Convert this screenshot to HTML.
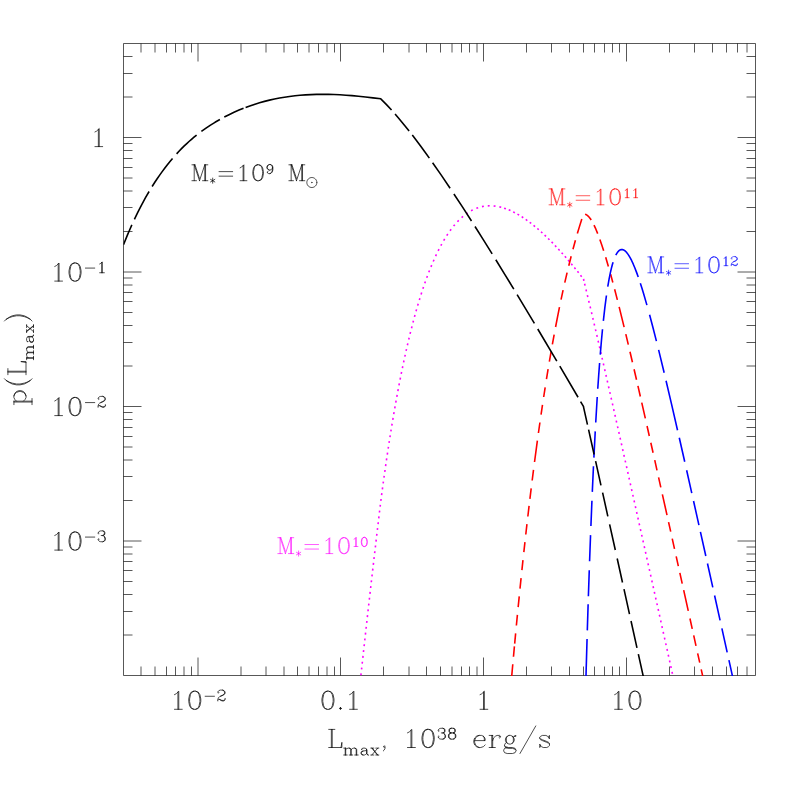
<!DOCTYPE html>
<html><head><meta charset="utf-8"><title>p(Lmax)</title>
<style>html,body{margin:0;padding:0;background:#fff;font-family:"Liberation Sans",sans-serif}svg{display:block}</style>
</head><body>
<svg width="797" height="797" viewBox="0 0 797 797">
<rect width="797" height="797" fill="#fff"/>
<rect x="123.5" y="43.5" width="632.0" height="632.0" fill="none" stroke="#000" stroke-width="0.66" stroke-linejoin="round"/>
<path d="M141 675.5V666.5M141 43.5V52.5M155 675.5V666.5M155 43.5V52.5M166.5 675.5V666.5M166.5 43.5V52.5M175.5 675.5V666.5M175.5 43.5V52.5M184 675.5V666.5M184 43.5V52.5M191.5 675.5V666.5M191.5 43.5V52.5M198 675.5V657.5M198 43.5V61.5M241 675.5V666.5M241 43.5V52.5M266 675.5V666.5M266 43.5V52.5M284 675.5V666.5M284 43.5V52.5M297.5 675.5V666.5M297.5 43.5V52.5M309 675.5V666.5M309 43.5V52.5M318.5 675.5V666.5M318.5 43.5V52.5M327 675.5V666.5M327 43.5V52.5M334.5 675.5V666.5M334.5 43.5V52.5M340.5 675.5V657.5M340.5 43.5V61.5M383.5 675.5V666.5M383.5 43.5V52.5M409 675.5V666.5M409 43.5V52.5M426.5 675.5V666.5M426.5 43.5V52.5M440.5 675.5V666.5M440.5 43.5V52.5M452 675.5V666.5M452 43.5V52.5M461.5 675.5V666.5M461.5 43.5V52.5M469.5 675.5V666.5M469.5 43.5V52.5M477 675.5V666.5M477 43.5V52.5M483.5 675.5V657.5M483.5 43.5V61.5M526.5 675.5V666.5M526.5 43.5V52.5M551.5 675.5V666.5M551.5 43.5V52.5M569.5 675.5V666.5M569.5 43.5V52.5M583.5 675.5V666.5M583.5 43.5V52.5M594.5 675.5V666.5M594.5 43.5V52.5M604.5 675.5V666.5M604.5 43.5V52.5M612.5 675.5V666.5M612.5 43.5V52.5M619.5 675.5V666.5M619.5 43.5V52.5M626.5 675.5V657.5M626.5 43.5V61.5M669.5 675.5V666.5M669.5 43.5V52.5M694.5 675.5V666.5M694.5 43.5V52.5M712.5 675.5V666.5M712.5 43.5V52.5M726.5 675.5V666.5M726.5 43.5V52.5M737.5 675.5V666.5M737.5 43.5V52.5M747 675.5V666.5M747 43.5V52.5M123.5 635H132.5M755.5 635H746.5M123.5 611.5H132.5M755.5 611.5H746.5M123.5 594.5H132.5M755.5 594.5H746.5M123.5 581.5H132.5M755.5 581.5H746.5M123.5 570.5H132.5M755.5 570.5H746.5M123.5 561.5H132.5M755.5 561.5H746.5M123.5 554H132.5M755.5 554H746.5M123.5 547H132.5M755.5 547H746.5M123.5 541H141.5M755.5 541H737.5M123.5 500.5H132.5M755.5 500.5H746.5M123.5 476.5H132.5M755.5 476.5H746.5M123.5 460H132.5M755.5 460H746.5M123.5 447H132.5M755.5 447H746.5M123.5 436.5H132.5M755.5 436.5H746.5M123.5 427.5H132.5M755.5 427.5H746.5M123.5 419.5H132.5M755.5 419.5H746.5M123.5 412.5H132.5M755.5 412.5H746.5M123.5 406.5H141.5M755.5 406.5H737.5M123.5 366H132.5M755.5 366H746.5M123.5 342.5H132.5M755.5 342.5H746.5M123.5 325.5H132.5M755.5 325.5H746.5M123.5 312.5H132.5M755.5 312.5H746.5M123.5 301.5H132.5M755.5 301.5H746.5M123.5 292.5H132.5M755.5 292.5H746.5M123.5 285H132.5M755.5 285H746.5M123.5 278H132.5M755.5 278H746.5M123.5 272H141.5M755.5 272H737.5M123.5 231.5H132.5M755.5 231.5H746.5M123.5 207.5H132.5M755.5 207.5H746.5M123.5 191H132.5M755.5 191H746.5M123.5 178H132.5M755.5 178H746.5M123.5 167.5H132.5M755.5 167.5H746.5M123.5 158.5H132.5M755.5 158.5H746.5M123.5 150.5H132.5M755.5 150.5H746.5M123.5 143.5H132.5M755.5 143.5H746.5M123.5 137.5H141.5M755.5 137.5H737.5M123.5 97H132.5M755.5 97H746.5M123.5 73.5H132.5M755.5 73.5H746.5M123.5 56.5H132.5M755.5 56.5H746.5" fill="none" stroke="#000" stroke-width="0.66"/>
<clipPath id="c"><rect x="123.5" y="43.5" width="632.0" height="632.4"/></clipPath>
<g clip-path="url(#c)" fill="none" stroke-width="1.6" stroke-linecap="butt" stroke-linejoin="round">
<path d="M360.29 681.06 L360.49 679.17 M360.92 675.24 L361.12 673.36 M361.55 669.43 L361.76 667.54 M362.19 663.61 L362.4 661.72 M362.83 657.8 L363.03 655.91 M363.47 651.98 L363.67 650.09 M364.11 646.17 L364.32 644.28 M364.75 640.35 L364.96 638.47 M365.4 634.54 L365.61 632.65 M366.04 628.73 L366.25 626.84 M366.69 622.91 L366.9 621.02 M367.34 617.1 L367.55 615.21 M368 611.28 L368.21 609.4 M368.65 605.47 L368.86 603.58 M369.31 599.66 L369.52 597.77 M369.97 593.85 L370.18 591.96 M370.63 588.03 L370.84 586.15 M371.29 582.22 L371.51 580.33 M371.96 576.41 L372.17 574.52 M372.63 570.6 L372.84 568.71 M373.3 564.79 L373.51 562.9 M373.97 558.97 L374.19 557.09 M374.64 553.16 L374.86 551.28 M375.32 547.35 L375.54 545.47 M376 541.54 L376.22 539.66 M376.68 535.73 L376.9 533.85 M377.36 529.92 L377.58 528.04 M378.05 524.11 L378.27 522.23 M378.74 518.3 L378.96 516.42 M379.43 512.49 L379.65 510.61 M380.12 506.69 L380.35 504.8 M380.82 500.88 L381.07 498.99 M381.58 495.08 L381.83 493.19 M382.36 489.28 L382.61 487.4 M383.14 483.48 L383.4 481.6 M383.94 477.69 L384.21 475.81 M384.76 471.89 L385.03 470.01 M385.59 466.1 L385.86 464.22 M386.43 460.31 L386.7 458.43 M387.28 454.53 L387.57 452.65 M388.16 448.74 L388.44 446.86 M389.04 442.96 L389.34 441.08 M389.95 437.18 L390.25 435.3 M390.87 431.4 L391.17 429.53 M391.81 425.63 L392.12 423.75 M392.77 419.86 L393.09 417.98 M393.75 414.09 L394.07 412.22 M394.75 408.33 L395.08 406.46 M395.77 402.57 L396.1 400.7 M396.81 396.81 L397.15 394.94 M397.87 391.06 L398.23 389.19 M398.96 385.31 L399.32 383.44 M400.08 379.57 L400.45 377.7 M401.22 373.83 L401.6 371.97 M402.39 368.1 L402.78 366.24 M403.59 362.37 L403.99 360.51 M404.82 356.65 L405.23 354.8 M406.09 350.94 L406.51 349.09 M407.39 345.24 L407.82 343.39 M408.72 339.54 L409.17 337.7 M410.1 333.86 L410.56 332.01 M411.52 328.18 L411.99 326.34 M412.98 322.52 L413.47 320.68 M414.49 316.87 L414.99 315.03 M416.05 311.23 L416.57 309.4 M417.67 305.61 L418.21 303.78 M419.34 300 L419.9 298.18 M421.08 294.42 L421.66 292.61 M422.89 288.85 L423.5 287.05 M424.78 283.31 L425.41 281.52 M426.75 277.81 L427.4 276.02 M428.8 272.33 L429.49 270.56 M430.96 266.89 L431.69 265.14 M433.23 261.5 L434 259.76 M435.62 256.16 L436.43 254.44 M438.15 250.89 L439.01 249.19 M440.84 245.69 L441.75 244.02 M443.7 240.59 L444.67 238.95 M446.76 235.6 L447.8 234.01 M450.04 230.76 L451.16 229.23 M453.59 226.11 L454.8 224.65 M457.43 221.7 L458.74 220.33 M461.6 217.6 L463.04 216.36 M466.14 213.92 L467.7 212.83 M471.07 210.77 L472.75 209.89 M476.37 208.3 L478.16 207.67 M481.97 206.64 L483.84 206.28 M487.76 205.85 L489.66 205.79 M493.61 205.96 L495.49 206.17 M499.38 206.86 L501.23 207.3 M504.11 208.15 L505.91 208.76 M508.71 209.83 L510.45 210.58 M513.17 211.86 L514.86 212.72 M517.49 214.16 L519.13 215.12 M521.68 216.7 L523.28 217.73 M525.75 219.42 L527.3 220.53 M529.71 222.31 L531.22 223.47 M533.57 225.34 L535.04 226.54 M537.33 228.48 L538.76 229.72 M541 231.72 L542.41 233 M544.6 235.05 L545.98 236.36 M548.13 238.45 L549.47 239.79 M551.58 241.92 L552.91 243.28 M554.98 245.45 L556.29 246.83 M558.33 249.03 L559.61 250.43 M561.62 252.66 L562.88 254.08 M564.86 256.33 L566.11 257.77 M568.07 260.04 L569.3 261.49 M571.23 263.79 L572.44 265.25 M574.35 267.56 L575.55 269.03 M577.44 271.37 L578.63 272.85 M580.49 275.2 L581.67 276.69 M583.52 279.05 L583.56 279.11 L583.61 279.74 L583.89 280.9 M584.61 283.81 L585.06 285.66 M586 289.5 L586.45 291.34 M587.37 295.18 L587.82 297.03 M588.74 300.87 L589.18 302.72 M590.1 306.56 L590.54 308.41 M591.45 312.25 L591.88 314.1 M592.79 317.95 L593.22 319.8 M594.12 323.64 L594.56 325.49 M595.45 329.34 L595.88 331.19 M596.78 335.04 L597.21 336.89 M598.1 340.74 L598.52 342.59 M599.41 346.44 L599.84 348.29 M600.72 352.14 L601.15 353.99 M602.03 357.84 L602.45 359.69 M603.33 363.54 L603.76 365.4 M604.63 369.25 L605.06 371.1 M605.93 374.95 L606.35 376.8 M607.23 380.66 L607.65 382.51 M608.52 386.36 L608.94 388.22 M609.81 392.07 L610.23 393.92 M611.1 397.77 L611.51 399.63 M612.38 403.48 L612.8 405.34 M613.67 409.19 L614.08 411.04 M614.95 414.9 L615.37 416.75 M616.23 420.6 L616.65 422.46 M617.51 426.31 L617.93 428.17 M618.79 432.02 L619.2 433.88 M620.07 437.73 L620.48 439.58 M621.34 443.44 L621.76 445.29 M622.62 449.15 L623.03 451 M623.89 454.86 L624.31 456.71 M625.17 460.57 L625.58 462.42 M626.44 466.28 L626.85 468.13 M627.71 471.99 L628.12 473.84 M628.98 477.7 L629.4 479.55 M630.25 483.41 L630.67 485.26 M631.52 489.12 L631.94 490.97 M632.79 494.83 L633.21 496.68 M634.06 500.54 L634.48 502.39 M635.33 506.25 L635.74 508.11 M636.6 511.96 L637.01 513.82 M637.87 517.67 L638.28 519.53 M639.14 523.38 L639.55 525.24 M640.4 529.09 L640.82 530.95 M641.67 534.81 L642.08 536.66 M642.94 540.52 L643.35 542.37 M644.2 546.23 L644.62 548.08 M645.47 551.94 L645.88 553.79 M646.74 557.65 L647.15 559.51 M648 563.36 L648.41 565.22 M649.27 569.07 L649.68 570.93 M650.53 574.78 L650.95 576.64 M651.8 580.5 L652.21 582.35 M653.06 586.21 L653.48 588.06 M654.33 591.92 L654.74 593.77 M655.59 597.63 L656.01 599.49 M656.86 603.34 L657.27 605.2 M658.12 609.05 L658.54 610.91 M659.39 614.77 L659.8 616.62 M660.65 620.48 L661.06 622.33 M661.92 626.19 L662.33 628.04 M663.18 631.9 L663.59 633.76 M664.45 637.61 L664.86 639.47 M665.71 643.32 L666.12 645.18 M666.98 649.04 L667.39 650.89 M668.24 654.75 L668.65 656.6 M669.5 660.46 L669.91 662.31 M670.77 666.17 L671.18 668.03 M672.03 671.88 L672.44 673.74 M673.3 677.6 L673.71 679.45" stroke="#ff00ff"/>
<path d="M511.3 680.89 L512.78 664.3 M513.47 656.7 L514.41 646.4 M514.67 643.6 L515.64 633.3 M516.38 625.5 L517.4 614.9 M518.16 607.1 L519.24 596.3 M520 588.7 L521.08 578.2 M521.91 570.2 L522.97 560.2 M523.84 552.1 L524.94 542.1 M525.78 534.5 L526.95 524.2 M527.84 516.5 L529.08 505.9 M529.91 498.9 L531.19 488.4 M532.17 480.5 L533.51 469.9 M534.53 462 L537.38 440.6 M538.43 433 L539.91 422.5 M541.05 414.6 L542.49 404.9 M543.68 397 L545.18 387.3 M546.47 379.2 L548.1 369.2 M549.36 361.7 L551.1 351.6 M552.37 344.4 L554.16 334.6 M555.58 327 L557.5 317.09 L559.49 307.2 M561.04 299.7 L563.09 290.2 M564.78 282.6 L567.1 272.6 M568.77 265.7 L571.16 256.2 M572.99 249.2 L575.43 240.3 M577.36 233.6 L579.6 226.12 L581.82 219.05 M585.1 214.25 L585.88 214.51 L586.58 214.88 L587.28 215.36 L588.08 216.05 L588.78 216.77 L589.58 217.72 L590.38 218.79 L591.22 220.05 M594 225.1 L595.78 228.95 L597.7 233.6 M599.87 239.4 L601.78 244.9 L603.67 250.7 M605.69 257.2 L608.39 266.4 M610.61 274.3 L612.84 282.5 M614.63 289.3 L617.37 299.9 M619.14 306.9 L624.11 327.1 M625.8 334.1 L628.31 344.65 M629.98 351.7 L632.44 362.2 M634.07 369.2 L636.52 379.8 M637.93 385.9 L640.35 396.5 M641.75 402.6 L645.34 418.4 M647.05 426 L649.31 436 M650.82 442.7 L653.07 452.7 M654.75 460.2 L657.01 470.3 M658.58 477.3 L660.81 487.3 M662.37 494.3 L667 515.05 M668.56 522.1 L670.7 531.7 M672.23 538.6 L674.5 548.8 M676.19 556.4 L678.34 566.1 M679.85 572.9 L682.22 583.6 M683.68 590.2 L688.27 610.9 M689.95 618.5 L692.24 628.8 M693.7 635.4 L696 645.8 M697.66 653.3 L699.74 662.7 M701.2 669.3 L703.88 681.39" stroke="#ff0000"/>
<path d="M585.88 679.97 L587.06 638.9 M587.31 630.4 L588.13 604.3 M588.39 596.3 L589.27 570.2 M589.59 561.2 L590.55 535.1 M590.91 526 L591.94 500.7 M592.31 491.9 L593.47 466.3 M593.89 457.6 L595.24 431.4 M595.73 422.5 L597.24 397 M597.77 388.8 L598.68 375.48 L599.6 363 M600.26 354.6 L601.38 341.3 L602.5 329.2 M603.36 320.8 L604.88 307.34 L606.43 295.5 M607.76 286.7 L609.08 279.11 L610.38 272.67 L611.68 267.18 L612.38 264.58 L613.09 262.2 M615.8 255.2 L616.38 254.1 L616.98 253.1 L617.58 252.23 L618.18 251.49 L618.78 250.88 L619.38 250.39 L619.98 250.01 L620.58 249.75 L621.18 249.59 L621.78 249.54 L622.38 249.58 L623.08 249.76 L623.68 250.01 L624.38 250.41 L625.08 250.93 L625.78 251.56 L626.48 252.3 L627.18 253.14 L628.58 255.11 L630.08 257.61 L631.58 260.49 L633.18 263.94 L634.78 267.74 L636.48 272.13 L638.23 277 M640.32 283.2 L641.88 288.09 L643.48 293.31 L646.91 305.1 M649.58 314.8 L652.88 327.25 L656.42 341.1 M658.61 349.9 L664.17 372.8 M666.05 380.7 L671.48 403.87 L677.54 430.2 M679.28 437.8 L684.72 461.8 M686.64 470.3 L691.77 493.1 M693.54 501 L698.93 525.1 M700.42 531.8 L705.81 556 M707.48 563.5 L712.79 587.4 M714.59 595.5 L720.09 620.3 M721.88 628.4 L727.18 652.3 M728.93 660.2 L733.58 681.2" stroke="#0000ff"/>
<path d="M123.5 244.66 L127.5 234.88 L129.5 230.21 L131.85 224.91 M134.4 219.37 L138 211.92 L141.5 205.08 L145.5 197.72 L149.1 191.48 M152.1 186.55 L154.5 182.78 L157 178.99 L159.5 175.35 L162 171.85 L164.5 168.47 L167 165.23 L170 161.49 L172.55 158.45 M176.6 153.86 L179 151.27 L181.5 148.68 L184 146.19 L186.5 143.8 L189 141.5 L191.5 139.29 L194 137.17 L196.6 135.05 M201.4 131.37 L206 128.09 L210.5 125.1 L215 122.31 L219.9 119.47 M224.3 117.07 L229 114.67 L234 112.29 L239 110.09 L243.55 108.23 M245.6 107.44 L250.5 105.65 L255 104.15 L259.5 102.76 L264.5 101.37 L269.5 100.12 L274.5 99 L279.5 98.02 L284.5 97.17 L289.5 96.44 L295 95.77 L300 95.28 L305.5 94.87 L311 94.58 L316.5 94.4 L322.5 94.33 L328.5 94.39 L334 94.53 L340 94.79 L346 95.18 L352 95.65 L358.5 96.25 L365.5 96.98 L373 97.85 L380.76 98.83 L383.26 101.31 L386.26 104.38 L391.55 110.07 M395.06 114.01 L398.26 117.72 L401.76 121.89 L405.26 126.17 L409.1 130.99 M412.3 135.09 L416.26 140.27 L420.76 146.28 L424.76 151.74 L429.35 158.11 M432.6 162.69 L441.26 175.16 L450.1 188.23 M453.9 193.94 L462.26 206.68 L471.5 221.01 M475 226.5 L483.26 239.58 L492.15 253.83 M495.8 259.73 L504.76 274.3 L513.8 289.14 M517.1 294.59 L534.4 323.37 M537.75 328.98 L556.8 361.1 M559.8 366.19 L578.05 397.27 M580.6 401.62 L583.56 406.69 L583.61 407.35 L587.46 424.6 M588.58 429.6 L594.12 454.5 M595.61 461.2 L600.96 485.3 M602.6 492.7 L607.84 516.3 M609.61 524.3 L615.31 550 M617.19 558.5 L622.5 582.5 M623.99 589.2 L629.5 614.1 M631.03 621 L636.98 647.9 M638.35 654.1 L644.36 681.26" stroke="#000"/>
</g>
<path transform="translate(198 709.3)" d="M-23.54 -14.65 L-21.81 -15.52 L-19.23 -18.1 L-19.23 0 M-20.09 -17.24 L-20.09 0 M-23.54 0 L-15.78 0 M-4.1 -18.1 L-6.68 -17.24 L-8.41 -14.65 L-9.27 -10.34 L-9.27 -7.76 L-8.41 -3.45 L-6.68 -0.86 L-4.1 0 L-2.37 0 L0.21 -0.86 L1.94 -3.45 L2.8 -7.76 L2.8 -10.34 L1.94 -14.65 L0.21 -17.24 L-2.37 -18.1 L-4.1 -18.1 M-4.1 -18.1 L-5.82 -17.24 L-6.68 -16.38 L-7.55 -14.65 L-8.41 -10.34 L-8.41 -7.76 L-7.55 -3.45 L-6.68 -1.72 L-5.82 -0.86 L-4.1 0 M-2.37 0 L-0.65 -0.86 L0.21 -1.72 L1.07 -3.45 L1.94 -7.76 L1.94 -10.34 L1.07 -14.65 L0.21 -16.38 L-0.65 -17.24 L-2.37 -18.1 M7.14 -13.02 L16.45 -13.02 M20.36 -17.15 L20.87 -16.64 L20.36 -16.12 L19.84 -16.64 L19.84 -17.15 L20.36 -18.19 L20.87 -18.71 L22.42 -19.22 L24.49 -19.22 L26.05 -18.71 L26.56 -18.19 L27.08 -17.15 L27.08 -16.12 L26.56 -15.08 L25.01 -14.05 L22.42 -13.02 L21.39 -12.5 L20.36 -11.46 L19.84 -9.91 L19.84 -8.36 M24.49 -19.22 L25.53 -18.71 L26.05 -18.19 L26.56 -17.15 L26.56 -16.12 L26.05 -15.08 L24.49 -14.05 L22.42 -13.02 M19.84 -9.4 L20.36 -9.91 L21.39 -9.91 L23.98 -8.88 L25.53 -8.88 L26.56 -9.4 L27.08 -9.91 M21.39 -9.91 L23.98 -8.36 L26.05 -8.36 L26.56 -8.88 L27.08 -9.91 L27.08 -10.95" fill="none" stroke="#000" stroke-width="0.7" stroke-linecap="round" stroke-linejoin="round"/>
<path transform="translate(340.5 709.3)" d="M-13.4 -18.1 L-15.99 -17.24 L-17.71 -14.65 L-18.58 -10.34 L-18.58 -7.76 L-17.71 -3.45 L-15.99 -0.86 L-13.4 0 L-11.68 0 L-9.09 -0.86 L-7.37 -3.45 L-6.51 -7.76 L-6.51 -10.34 L-7.37 -14.65 L-9.09 -17.24 L-11.68 -18.1 L-13.4 -18.1 M-13.4 -18.1 L-15.13 -17.24 L-15.99 -16.38 L-16.85 -14.65 L-17.71 -10.34 L-17.71 -7.76 L-16.85 -3.45 L-15.99 -1.72 L-15.13 -0.86 L-13.4 0 M-11.68 0 L-9.96 -0.86 L-9.09 -1.72 L-8.23 -3.45 L-7.37 -7.76 L-7.37 -10.34 L-8.23 -14.65 L-9.09 -16.38 L-9.96 -17.24 L-11.68 -18.1 M0 -1.72 L-0.86 -0.86 L0 0 L0.86 -0.86 L0 -1.72 M-0.86 -0.86 L0.86 -0.86 M0 -1.72 L0 0 M9.09 -14.65 L10.82 -15.52 L13.4 -18.1 L13.4 0 M12.54 -17.24 L12.54 0 M9.09 0 L16.85 0" fill="none" stroke="#000" stroke-width="0.7" stroke-linecap="round" stroke-linejoin="round"/>
<path transform="translate(483.5 709.3)" d="M-3.45 -14.65 L-1.72 -15.52 L0.86 -18.1 L0.86 0 M0 -17.24 L0 0 M-3.45 0 L4.31 0" fill="none" stroke="#000" stroke-width="0.7" stroke-linecap="round" stroke-linejoin="round"/>
<path transform="translate(626.5 709.3)" d="M-11.87 -14.65 L-10.15 -15.52 L-7.56 -18.1 L-7.56 0 M-8.43 -17.24 L-8.43 0 M-11.87 0 L-4.12 0 M7.56 -18.1 L4.98 -17.24 L3.25 -14.65 L2.39 -10.34 L2.39 -7.76 L3.25 -3.45 L4.98 -0.86 L7.56 0 L9.29 0 L11.87 -0.86 L13.6 -3.45 L14.46 -7.76 L14.46 -10.34 L13.6 -14.65 L11.87 -17.24 L9.29 -18.1 L7.56 -18.1 M7.56 -18.1 L5.84 -17.24 L4.98 -16.38 L4.12 -14.65 L3.25 -10.34 L3.25 -7.76 L4.12 -3.45 L4.98 -1.72 L5.84 -0.86 L7.56 0 M9.29 0 L11.01 -0.86 L11.87 -1.72 L12.74 -3.45 L13.6 -7.76 L13.6 -10.34 L12.74 -14.65 L11.87 -16.38 L11.01 -17.24 L9.29 -18.1" fill="none" stroke="#000" stroke-width="0.7" stroke-linecap="round" stroke-linejoin="round"/>
<path transform="translate(106.8 146.6)" d="M-11.87 -14.65 L-10.15 -15.52 L-7.56 -18.1 L-7.56 0 M-8.43 -17.24 L-8.43 0 M-11.87 0 L-4.12 0" fill="none" stroke="#000" stroke-width="0.7" stroke-linecap="round" stroke-linejoin="round"/>
<path transform="translate(106.8 281.1)" d="M-52.05 -14.65 L-50.33 -15.52 L-47.74 -18.1 L-47.74 0 M-48.6 -17.24 L-48.6 0 M-52.05 0 L-44.29 0 M-32.61 -18.1 L-35.2 -17.24 L-36.92 -14.65 L-37.79 -10.34 L-37.79 -7.76 L-36.92 -3.45 L-35.2 -0.86 L-32.61 0 L-30.89 0 L-28.3 -0.86 L-26.58 -3.45 L-25.72 -7.76 L-25.72 -10.34 L-26.58 -14.65 L-28.3 -17.24 L-30.89 -18.1 L-32.61 -18.1 M-32.61 -18.1 L-34.34 -17.24 L-35.2 -16.38 L-36.06 -14.65 L-36.92 -10.34 L-36.92 -7.76 L-36.06 -3.45 L-35.2 -1.72 L-34.34 -0.86 L-32.61 0 M-30.89 0 L-29.17 -0.86 L-28.3 -1.72 L-27.44 -3.45 L-26.58 -7.76 L-26.58 -10.34 L-27.44 -14.65 L-28.3 -16.38 L-29.17 -17.24 L-30.89 -18.1 M-21.37 -13.02 L-12.06 -13.02 M-7.12 -17.15 L-6.09 -17.67 L-4.54 -19.22 L-4.54 -8.36 M-5.06 -18.71 L-5.06 -8.36 M-7.12 -8.36 L-2.47 -8.36" fill="none" stroke="#000" stroke-width="0.7" stroke-linecap="round" stroke-linejoin="round"/>
<path transform="translate(106.8 415.6)" d="M-52.05 -14.65 L-50.33 -15.52 L-47.74 -18.1 L-47.74 0 M-48.6 -17.24 L-48.6 0 M-52.05 0 L-44.29 0 M-32.61 -18.1 L-35.2 -17.24 L-36.92 -14.65 L-37.79 -10.34 L-37.79 -7.76 L-36.92 -3.45 L-35.2 -0.86 L-32.61 0 L-30.89 0 L-28.3 -0.86 L-26.58 -3.45 L-25.72 -7.76 L-25.72 -10.34 L-26.58 -14.65 L-28.3 -17.24 L-30.89 -18.1 L-32.61 -18.1 M-32.61 -18.1 L-34.34 -17.24 L-35.2 -16.38 L-36.06 -14.65 L-36.92 -10.34 L-36.92 -7.76 L-36.06 -3.45 L-35.2 -1.72 L-34.34 -0.86 L-32.61 0 M-30.89 0 L-29.17 -0.86 L-28.3 -1.72 L-27.44 -3.45 L-26.58 -7.76 L-26.58 -10.34 L-27.44 -14.65 L-28.3 -16.38 L-29.17 -17.24 L-30.89 -18.1 M-21.37 -13.02 L-12.06 -13.02 M-8.16 -17.15 L-7.64 -16.64 L-8.16 -16.12 L-8.68 -16.64 L-8.68 -17.15 L-8.16 -18.19 L-7.64 -18.71 L-6.09 -19.22 L-4.02 -19.22 L-2.47 -18.71 L-1.95 -18.19 L-1.44 -17.15 L-1.44 -16.12 L-1.95 -15.08 L-3.5 -14.05 L-6.09 -13.02 L-7.12 -12.5 L-8.16 -11.46 L-8.68 -9.91 L-8.68 -8.36 M-4.02 -19.22 L-2.99 -18.71 L-2.47 -18.19 L-1.95 -17.15 L-1.95 -16.12 L-2.47 -15.08 L-4.02 -14.05 L-6.09 -13.02 M-8.68 -9.4 L-8.16 -9.91 L-7.12 -9.91 L-4.54 -8.88 L-2.99 -8.88 L-1.95 -9.4 L-1.44 -9.91 M-7.12 -9.91 L-4.54 -8.36 L-2.47 -8.36 L-1.95 -8.88 L-1.44 -9.91 L-1.44 -10.95" fill="none" stroke="#000" stroke-width="0.7" stroke-linecap="round" stroke-linejoin="round"/>
<path transform="translate(106.8 550.1)" d="M-52.05 -14.65 L-50.33 -15.52 L-47.74 -18.1 L-47.74 0 M-48.6 -17.24 L-48.6 0 M-52.05 0 L-44.29 0 M-32.61 -18.1 L-35.2 -17.24 L-36.92 -14.65 L-37.79 -10.34 L-37.79 -7.76 L-36.92 -3.45 L-35.2 -0.86 L-32.61 0 L-30.89 0 L-28.3 -0.86 L-26.58 -3.45 L-25.72 -7.76 L-25.72 -10.34 L-26.58 -14.65 L-28.3 -17.24 L-30.89 -18.1 L-32.61 -18.1 M-32.61 -18.1 L-34.34 -17.24 L-35.2 -16.38 L-36.06 -14.65 L-36.92 -10.34 L-36.92 -7.76 L-36.06 -3.45 L-35.2 -1.72 L-34.34 -0.86 L-32.61 0 M-30.89 0 L-29.17 -0.86 L-28.3 -1.72 L-27.44 -3.45 L-26.58 -7.76 L-26.58 -10.34 L-27.44 -14.65 L-28.3 -16.38 L-29.17 -17.24 L-30.89 -18.1 M-21.37 -13.02 L-12.06 -13.02 M-8.16 -17.15 L-7.64 -16.64 L-8.16 -16.12 L-8.68 -16.64 L-8.68 -17.15 L-8.16 -18.19 L-7.64 -18.71 L-6.09 -19.22 L-4.02 -19.22 L-2.47 -18.71 L-1.95 -17.67 L-1.95 -16.12 L-2.47 -15.08 L-4.02 -14.57 L-5.57 -14.57 M-4.02 -19.22 L-2.99 -18.71 L-2.47 -17.67 L-2.47 -16.12 L-2.99 -15.08 L-4.02 -14.57 M-4.02 -14.57 L-2.99 -14.05 L-1.95 -13.02 L-1.44 -11.98 L-1.44 -10.43 L-1.95 -9.4 L-2.47 -8.88 L-4.02 -8.36 L-6.09 -8.36 L-7.64 -8.88 L-8.16 -9.4 L-8.68 -10.43 L-8.68 -10.95 L-8.16 -11.46 L-7.64 -10.95 L-8.16 -10.43 M-2.47 -13.53 L-1.95 -11.98 L-1.95 -10.43 L-2.47 -9.4 L-2.99 -8.88 L-4.02 -8.36" fill="none" stroke="#000" stroke-width="0.7" stroke-linecap="round" stroke-linejoin="round"/>
<path transform="translate(439.5 747.5)" d="M-108.15 -18.1 L-108.15 0 M-107.27 -18.1 L-107.27 0 M-110.78 -18.1 L-104.64 -18.1 M-110.78 0 L-97.62 0 L-97.62 -5.17 L-98.5 0 M-94.29 0.62 L-94.29 7.5 M-93.79 0.62 L-93.79 7.5 M-93.79 2.09 L-92.79 1.11 L-91.29 0.62 L-90.29 0.62 L-88.79 1.11 L-88.29 2.09 L-88.29 7.5 M-90.29 0.62 L-89.29 1.11 L-88.79 2.09 L-88.79 7.5 M-88.29 2.09 L-87.29 1.11 L-85.79 0.62 L-84.79 0.62 L-83.29 1.11 L-82.79 2.09 L-82.79 7.5 M-84.79 0.62 L-83.79 1.11 L-83.29 2.09 L-83.29 7.5 M-95.79 0.62 L-93.79 0.62 M-95.79 7.5 L-92.29 7.5 M-90.29 7.5 L-86.79 7.5 M-84.79 7.5 L-81.29 7.5 M-77.48 1.6 L-77.48 2.09 L-77.98 2.09 L-77.98 1.6 L-77.48 1.11 L-76.48 0.62 L-74.48 0.62 L-73.48 1.11 L-72.98 1.6 L-72.48 2.59 L-72.48 6.03 L-71.98 7.01 L-71.48 7.5 M-72.98 1.6 L-72.98 6.03 L-72.48 7.01 L-71.48 7.5 L-70.98 7.5 M-72.98 2.59 L-73.48 3.08 L-76.48 3.57 L-77.98 4.06 L-78.49 5.04 L-78.49 6.03 L-77.98 7.01 L-76.48 7.5 L-74.98 7.5 L-73.98 7.01 L-72.98 6.03 M-76.48 3.57 L-77.48 4.06 L-77.98 5.04 L-77.98 6.03 L-77.48 7.01 L-76.48 7.5 M-67.68 0.62 L-62.18 7.5 M-67.18 0.62 L-61.68 7.5 M-61.68 0.62 L-67.68 7.5 M-68.68 0.62 L-65.68 0.62 M-63.68 0.62 L-60.68 0.62 M-68.68 7.5 L-65.68 7.5 M-63.68 7.5 L-60.68 7.5 M-54.46 -0.86 L-55.34 0 L-56.22 -0.86 L-55.34 -1.72 L-54.46 -0.86 L-54.46 0.86 L-55.34 2.59 L-56.22 3.45 M-32.04 -14.65 L-30.28 -15.52 L-27.65 -18.1 L-27.65 0 M-28.53 -17.24 L-28.53 0 M-32.04 0 L-24.14 0 M-12.25 -18.1 L-14.88 -17.24 L-16.64 -14.65 L-17.52 -10.34 L-17.52 -7.76 L-16.64 -3.45 L-14.88 -0.86 L-12.25 0 L-10.5 0 L-7.86 -0.86 L-6.11 -3.45 L-5.23 -7.76 L-5.23 -10.34 L-6.11 -14.65 L-7.86 -17.24 L-10.5 -18.1 L-12.25 -18.1 M-12.25 -18.1 L-14.01 -17.24 L-14.88 -16.38 L-15.76 -14.65 L-16.64 -10.34 L-16.64 -7.76 L-15.76 -3.45 L-14.88 -1.72 L-14.01 -0.86 L-12.25 0 M-10.5 0 L-8.74 -0.86 L-7.86 -1.72 L-6.99 -3.45 L-6.11 -7.76 L-6.11 -10.34 L-6.99 -14.65 L-7.86 -16.38 L-8.74 -17.24 L-10.5 -18.1 M-0.81 -17.15 L-0.28 -16.64 L-0.81 -16.12 L-1.34 -16.64 L-1.34 -17.15 L-0.81 -18.19 L-0.28 -18.71 L1.3 -19.22 L3.4 -19.22 L4.98 -18.71 L5.51 -17.67 L5.51 -16.12 L4.98 -15.08 L3.4 -14.57 L1.82 -14.57 M3.4 -19.22 L4.46 -18.71 L4.98 -17.67 L4.98 -16.12 L4.46 -15.08 L3.4 -14.57 M3.4 -14.57 L4.46 -14.05 L5.51 -13.02 L6.04 -11.98 L6.04 -10.43 L5.51 -9.4 L4.98 -8.88 L3.4 -8.36 L1.3 -8.36 L-0.28 -8.88 L-0.81 -9.4 L-1.34 -10.43 L-1.34 -10.95 L-0.81 -11.46 L-0.28 -10.95 L-0.81 -10.43 M4.98 -13.53 L5.51 -11.98 L5.51 -10.43 L4.98 -9.4 L4.46 -8.88 L3.4 -8.36 M11.59 -19.22 L10.01 -18.71 L9.48 -17.67 L9.48 -16.12 L10.01 -15.08 L11.59 -14.57 L13.7 -14.57 L15.28 -15.08 L15.8 -16.12 L15.8 -17.67 L15.28 -18.71 L13.7 -19.22 L11.59 -19.22 M11.59 -19.22 L10.54 -18.71 L10.01 -17.67 L10.01 -16.12 L10.54 -15.08 L11.59 -14.57 M13.7 -14.57 L14.75 -15.08 L15.28 -16.12 L15.28 -17.67 L14.75 -18.71 L13.7 -19.22 M11.59 -14.57 L10.01 -14.05 L9.48 -13.53 L8.96 -12.5 L8.96 -10.43 L9.48 -9.4 L10.01 -8.88 L11.59 -8.36 L13.7 -8.36 L15.28 -8.88 L15.8 -9.4 L16.33 -10.43 L16.33 -12.5 L15.8 -13.53 L15.28 -14.05 L13.7 -14.57 M11.59 -14.57 L10.54 -14.05 L10.01 -13.53 L9.48 -12.5 L9.48 -10.43 L10.01 -9.4 L10.54 -8.88 L11.59 -8.36 M13.7 -8.36 L14.75 -8.88 L15.28 -9.4 L15.8 -10.43 L15.8 -12.5 L15.28 -13.53 L14.75 -14.05 L13.7 -14.57 M35.14 -6.9 L45.67 -6.9 L45.67 -8.62 L44.8 -10.34 L43.92 -11.21 L42.16 -12.07 L39.53 -12.07 L36.9 -11.21 L35.14 -9.48 L34.27 -6.9 L34.27 -5.17 L35.14 -2.59 L36.9 -0.86 L39.53 0 L41.29 0 L43.92 -0.86 L45.67 -2.59 M44.8 -6.9 L44.8 -9.48 L43.92 -11.21 M39.53 -12.07 L37.78 -11.21 L36.02 -9.48 L35.14 -6.9 L35.14 -5.17 L36.02 -2.59 L37.78 -0.86 L39.53 0 M52.3 -12.07 L52.3 0 M53.18 -12.07 L53.18 0 M53.18 -6.9 L54.05 -9.48 L55.81 -11.21 L57.56 -12.07 L60.2 -12.07 L61.07 -11.21 L61.07 -10.34 L60.2 -9.48 L59.32 -10.34 L60.2 -11.21 M49.67 -12.07 L53.18 -12.07 M49.67 0 L55.81 0 M69.45 -12.07 L67.7 -11.21 L66.82 -10.34 L65.94 -8.62 L65.94 -6.9 L66.82 -5.17 L67.7 -4.31 L69.45 -3.45 L71.21 -3.45 L72.96 -4.31 L73.84 -5.17 L74.72 -6.9 L74.72 -8.62 L73.84 -10.34 L72.96 -11.21 L71.21 -12.07 L69.45 -12.07 M67.7 -11.21 L66.82 -9.48 L66.82 -6.03 L67.7 -4.31 M72.96 -4.31 L73.84 -6.03 L73.84 -9.48 L72.96 -11.21 M73.84 -10.34 L74.72 -11.21 L76.47 -12.07 L76.47 -11.21 L74.72 -11.21 M66.82 -5.17 L65.94 -4.31 L65.07 -2.59 L65.07 -1.72 L65.94 0 L68.58 0.86 L72.96 0.86 L75.6 1.72 L76.47 2.59 M65.07 -1.72 L65.94 -0.86 L68.58 0 L72.96 0 L75.6 0.86 L76.47 2.59 L76.47 3.45 L75.6 5.17 L72.96 6.03 L67.7 6.03 L65.07 5.17 L64.19 3.45 L64.19 2.59 L65.07 0.86 L67.7 0 M96.26 -21.55 L80.47 6.03 M109.03 -10.34 L109.91 -12.07 L109.91 -8.62 L109.03 -10.34 L108.15 -11.21 L106.4 -12.07 L102.89 -12.07 L101.13 -11.21 L100.25 -10.34 L100.25 -8.62 L101.13 -7.76 L102.89 -6.9 L107.27 -5.17 L109.03 -4.31 L109.91 -3.45 M100.25 -9.48 L101.13 -8.62 L102.89 -7.76 L107.27 -6.03 L109.03 -5.17 L109.91 -4.31 L109.91 -1.72 L109.03 -0.86 L107.27 0 L103.76 0 L102.01 -0.86 L101.13 -1.72 L100.25 -3.45 L100.25 0 L101.13 -1.72" fill="none" stroke="#000" stroke-width="0.7" stroke-linecap="round" stroke-linejoin="round"/>
<path transform="translate(26 358.9) rotate(-90)" d="M-43.12 -12.07 L-43.12 6.03 M-42.25 -12.07 L-42.25 6.03 M-42.25 -9.48 L-40.49 -11.21 L-38.74 -12.07 L-36.98 -12.07 L-34.35 -11.21 L-32.59 -9.48 L-31.72 -6.9 L-31.72 -5.17 L-32.59 -2.59 L-34.35 -0.86 L-36.98 0 L-38.74 0 L-40.49 -0.86 L-42.25 -2.59 M-36.98 -12.07 L-35.23 -11.21 L-33.47 -9.48 L-32.59 -6.9 L-32.59 -5.17 L-33.47 -2.59 L-35.23 -0.86 L-36.98 0 M-45.76 -12.07 L-42.25 -12.07 M-45.76 6.03 L-39.61 6.03 M-19.83 -21.55 L-21.58 -19.83 L-23.34 -17.24 L-25.09 -13.79 L-25.97 -9.48 L-25.97 -6.03 L-25.09 -1.72 L-23.34 1.72 L-21.58 4.31 L-19.83 6.03 M-21.58 -19.83 L-23.34 -16.38 L-24.21 -13.79 L-25.09 -9.48 L-25.09 -6.03 L-24.21 -1.72 L-23.34 0.86 L-21.58 4.31 M-13.2 -18.1 L-13.2 0 M-12.32 -18.1 L-12.32 0 M-15.83 -18.1 L-9.69 -18.1 M-15.83 0 L-2.67 0 L-2.67 -5.17 L-3.55 0 M0.66 0.62 L0.66 7.5 M1.16 0.62 L1.16 7.5 M1.16 2.09 L2.16 1.11 L3.66 0.62 L4.66 0.62 L6.16 1.11 L6.66 2.09 L6.66 7.5 M4.66 0.62 L5.66 1.11 L6.16 2.09 L6.16 7.5 M6.66 2.09 L7.66 1.11 L9.16 0.62 L10.16 0.62 L11.66 1.11 L12.17 2.09 L12.17 7.5 M10.16 0.62 L11.16 1.11 L11.66 2.09 L11.66 7.5 M-0.84 0.62 L1.16 0.62 M-0.84 7.5 L2.66 7.5 M4.66 7.5 L8.16 7.5 M10.16 7.5 L13.67 7.5 M17.47 1.6 L17.47 2.09 L16.97 2.09 L16.97 1.6 L17.47 1.11 L18.47 0.62 L20.47 0.62 L21.47 1.11 L21.97 1.6 L22.47 2.59 L22.47 6.03 L22.97 7.01 L23.47 7.5 M21.97 1.6 L21.97 6.03 L22.47 7.01 L23.47 7.5 L23.97 7.5 M21.97 2.59 L21.47 3.08 L18.47 3.57 L16.97 4.06 L16.47 5.04 L16.47 6.03 L16.97 7.01 L18.47 7.5 L19.97 7.5 L20.97 7.01 L21.97 6.03 M18.47 3.57 L17.47 4.06 L16.97 5.04 L16.97 6.03 L17.47 7.01 L18.47 7.5 M27.27 0.62 L32.77 7.5 M27.77 0.62 L33.27 7.5 M33.27 0.62 L27.27 7.5 M26.27 0.62 L29.27 0.62 M31.27 0.62 L34.27 0.62 M26.27 7.5 L29.27 7.5 M31.27 7.5 L34.27 7.5 M37.86 -21.55 L39.61 -19.83 L41.37 -17.24 L43.12 -13.79 L44 -9.48 L44 -6.03 L43.12 -1.72 L41.37 1.72 L39.61 4.31 L37.86 6.03 M39.61 -19.83 L41.37 -16.38 L42.25 -13.79 L43.12 -9.48 L43.12 -6.03 L42.25 -1.72 L41.37 0.86 L39.61 4.31" fill="none" stroke="#000" stroke-width="0.7" stroke-linecap="round" stroke-linejoin="round"/>
<path transform="translate(190.5 180.7)" d="M3.71 -15.9 L3.71 0 M4.47 -15.9 L9.01 -2.27 M3.71 -15.9 L9.01 0 M14.31 -15.9 L9.01 0 M14.31 -15.9 L14.31 0 M15.06 -15.9 L15.06 0 M1.44 -15.9 L4.47 -15.9 M14.31 -15.9 L17.34 -15.9 M1.44 0 L5.98 0 M12.04 0 L17.34 0 M22.18 -2.63 L22.18 2.55 M20.02 -1.33 L24.34 1.26 M24.34 -1.33 L20.02 1.26 M28.54 -9.08 L42.17 -9.08 M28.54 -4.54 L42.17 -4.54 M49.59 -12.87 L51.1 -13.63 L53.37 -15.9 L53.37 0 M52.62 -15.14 L52.62 0 M49.59 0 L56.4 0 M66.85 -15.9 L64.58 -15.14 L63.06 -12.87 L62.31 -9.08 L62.31 -6.81 L63.06 -3.03 L64.58 -0.76 L66.85 0 L68.36 0 L70.63 -0.76 L72.15 -3.03 L72.9 -6.81 L72.9 -9.08 L72.15 -12.87 L70.63 -15.14 L68.36 -15.9 L66.85 -15.9 M66.85 -15.9 L65.33 -15.14 L64.58 -14.38 L63.82 -12.87 L63.06 -9.08 L63.06 -6.81 L63.82 -3.03 L64.58 -1.51 L65.33 -0.76 L66.85 0 M68.36 0 L69.88 -0.76 L70.63 -1.51 L71.39 -3.03 L72.15 -6.81 L72.15 -9.08 L71.39 -12.87 L70.63 -14.38 L69.88 -15.14 L68.36 -15.9 M81.96 -13.16 L81.53 -11.86 L80.67 -11 L79.37 -10.57 L78.94 -10.57 L77.64 -11 L76.78 -11.86 L76.35 -13.16 L76.35 -13.59 L76.78 -14.88 L77.64 -15.75 L78.94 -16.18 L79.8 -16.18 L81.1 -15.75 L81.96 -14.88 L82.39 -13.59 L82.39 -11 L81.96 -9.27 L81.53 -8.41 L80.67 -7.55 L79.37 -7.12 L78.08 -7.12 L77.21 -7.55 L76.78 -8.41 L76.78 -8.84 L77.21 -9.27 L77.64 -8.84 L77.21 -8.41 M78.94 -10.57 L78.08 -11 L77.21 -11.86 L76.78 -13.16 L76.78 -13.59 L77.21 -14.88 L78.08 -15.75 L78.94 -16.18 M79.8 -16.18 L80.67 -15.75 L81.53 -14.88 L81.96 -13.59 L81.96 -11 L81.53 -9.27 L81.1 -8.41 L80.23 -7.55 L79.37 -7.12 M100.67 -15.9 L100.67 0 M101.43 -15.9 L105.97 -2.27 M100.67 -15.9 L105.97 0 M111.27 -15.9 L105.97 0 M111.27 -15.9 L111.27 0 M112.03 -15.9 L112.03 0 M98.4 -15.9 L101.43 -15.9 M111.27 -15.9 L114.3 -15.9 M98.4 0 L102.95 0 M109 0 L114.3 0 M126.34 1.82 L126.25 2.79 L125.96 3.73 L125.5 4.59 L124.88 5.35 L124.12 5.97 L123.26 6.44 L122.32 6.72 L121.34 6.82 L120.37 6.72 L119.43 6.44 L118.57 5.97 L117.81 5.35 L117.19 4.59 L116.73 3.73 L116.44 2.79 L116.34 1.82 L116.44 0.84 L116.73 -0.1 L117.19 -0.96 L117.81 -1.72 L118.57 -2.34 L119.43 -2.8 L120.37 -3.09 L121.34 -3.18 L122.32 -3.09 L123.26 -2.8 L124.12 -2.34 L124.88 -1.72 L125.5 -0.96 L125.96 -0.1 L126.25 0.84 L126.34 1.82 M121.66 1.82 L121.57 2.04 L121.34 2.13 L121.12 2.04 L121.03 1.82 L121.12 1.59 L121.34 1.5 L121.57 1.59 L121.66 1.82" fill="none" stroke="#000" stroke-width="0.7" stroke-linecap="round" stroke-linejoin="round"/>
<path transform="translate(276.4 553.6)" d="M3.71 -15.9 L3.71 0 M4.47 -15.9 L9.01 -2.27 M3.71 -15.9 L9.01 0 M14.31 -15.9 L9.01 0 M14.31 -15.9 L14.31 0 M15.06 -15.9 L15.06 0 M1.44 -15.9 L4.47 -15.9 M14.31 -15.9 L17.34 -15.9 M1.44 0 L5.98 0 M12.04 0 L17.34 0 M22.18 -2.63 L22.18 2.55 M20.02 -1.33 L24.34 1.26 M24.34 -1.33 L20.02 1.26 M28.54 -9.08 L42.17 -9.08 M28.54 -4.54 L42.17 -4.54 M49.59 -12.87 L51.1 -13.63 L53.37 -15.9 L53.37 0 M52.62 -15.14 L52.62 0 M49.59 0 L56.4 0 M66.85 -15.9 L64.58 -15.14 L63.06 -12.87 L62.31 -9.08 L62.31 -6.81 L63.06 -3.03 L64.58 -0.76 L66.85 0 L68.36 0 L70.63 -0.76 L72.15 -3.03 L72.9 -6.81 L72.9 -9.08 L72.15 -12.87 L70.63 -15.14 L68.36 -15.9 L66.85 -15.9 M66.85 -15.9 L65.33 -15.14 L64.58 -14.38 L63.82 -12.87 L63.06 -9.08 L63.06 -6.81 L63.82 -3.03 L64.58 -1.51 L65.33 -0.76 L66.85 0 M68.36 0 L69.88 -0.76 L70.63 -1.51 L71.39 -3.03 L72.15 -6.81 L72.15 -9.08 L71.39 -12.87 L70.63 -14.38 L69.88 -15.14 L68.36 -15.9 M77.64 -14.45 L78.51 -14.88 L79.8 -16.18 L79.8 -7.12 M79.37 -15.75 L79.37 -7.12 M77.64 -7.12 L81.53 -7.12 M87.48 -16.18 L86.19 -15.75 L85.33 -14.45 L84.89 -12.29 L84.89 -11 L85.33 -8.84 L86.19 -7.55 L87.48 -7.12 L88.35 -7.12 L89.64 -7.55 L90.5 -8.84 L90.93 -11 L90.93 -12.29 L90.5 -14.45 L89.64 -15.75 L88.35 -16.18 L87.48 -16.18 M87.48 -16.18 L86.62 -15.75 L86.19 -15.31 L85.76 -14.45 L85.33 -12.29 L85.33 -11 L85.76 -8.84 L86.19 -7.98 L86.62 -7.55 L87.48 -7.12 M88.35 -7.12 L89.21 -7.55 L89.64 -7.98 L90.07 -8.84 L90.5 -11 L90.5 -12.29 L90.07 -14.45 L89.64 -15.31 L89.21 -15.75 L88.35 -16.18" fill="none" stroke="#ff00ff" stroke-width="0.64" stroke-linecap="round" stroke-linejoin="round"/>
<path transform="translate(547.6 204.8)" d="M3.71 -15.9 L3.71 0 M4.47 -15.9 L9.01 -2.27 M3.71 -15.9 L9.01 0 M14.31 -15.9 L9.01 0 M14.31 -15.9 L14.31 0 M15.06 -15.9 L15.06 0 M1.44 -15.9 L4.47 -15.9 M14.31 -15.9 L17.34 -15.9 M1.44 0 L5.98 0 M12.04 0 L17.34 0 M22.18 -2.63 L22.18 2.55 M20.02 -1.33 L24.34 1.26 M24.34 -1.33 L20.02 1.26 M28.54 -9.08 L42.17 -9.08 M28.54 -4.54 L42.17 -4.54 M49.59 -12.87 L51.1 -13.63 L53.37 -15.9 L53.37 0 M52.62 -15.14 L52.62 0 M49.59 0 L56.4 0 M66.85 -15.9 L64.58 -15.14 L63.06 -12.87 L62.31 -9.08 L62.31 -6.81 L63.06 -3.03 L64.58 -0.76 L66.85 0 L68.36 0 L70.63 -0.76 L72.15 -3.03 L72.9 -6.81 L72.9 -9.08 L72.15 -12.87 L70.63 -15.14 L68.36 -15.9 L66.85 -15.9 M66.85 -15.9 L65.33 -15.14 L64.58 -14.38 L63.82 -12.87 L63.06 -9.08 L63.06 -6.81 L63.82 -3.03 L64.58 -1.51 L65.33 -0.76 L66.85 0 M68.36 0 L69.88 -0.76 L70.63 -1.51 L71.39 -3.03 L72.15 -6.81 L72.15 -9.08 L71.39 -12.87 L70.63 -14.38 L69.88 -15.14 L68.36 -15.9 M77.64 -14.45 L78.51 -14.88 L79.8 -16.18 L79.8 -7.12 M79.37 -15.75 L79.37 -7.12 M77.64 -7.12 L81.53 -7.12 M86.19 -14.45 L87.05 -14.88 L88.35 -16.18 L88.35 -7.12 M87.91 -15.75 L87.91 -7.12 M86.19 -7.12 L90.07 -7.12" fill="none" stroke="#ff0000" stroke-width="0.64" stroke-linecap="round" stroke-linejoin="round"/>
<path transform="translate(646.4 272.8)" d="M3.71 -15.9 L3.71 0 M4.47 -15.9 L9.01 -2.27 M3.71 -15.9 L9.01 0 M14.31 -15.9 L9.01 0 M14.31 -15.9 L14.31 0 M15.06 -15.9 L15.06 0 M1.44 -15.9 L4.47 -15.9 M14.31 -15.9 L17.34 -15.9 M1.44 0 L5.98 0 M12.04 0 L17.34 0 M22.18 -2.63 L22.18 2.55 M20.02 -1.33 L24.34 1.26 M24.34 -1.33 L20.02 1.26 M28.54 -9.08 L42.17 -9.08 M28.54 -4.54 L42.17 -4.54 M49.59 -12.87 L51.1 -13.63 L53.37 -15.9 L53.37 0 M52.62 -15.14 L52.62 0 M49.59 0 L56.4 0 M66.85 -15.9 L64.58 -15.14 L63.06 -12.87 L62.31 -9.08 L62.31 -6.81 L63.06 -3.03 L64.58 -0.76 L66.85 0 L68.36 0 L70.63 -0.76 L72.15 -3.03 L72.9 -6.81 L72.9 -9.08 L72.15 -12.87 L70.63 -15.14 L68.36 -15.9 L66.85 -15.9 M66.85 -15.9 L65.33 -15.14 L64.58 -14.38 L63.82 -12.87 L63.06 -9.08 L63.06 -6.81 L63.82 -3.03 L64.58 -1.51 L65.33 -0.76 L66.85 0 M68.36 0 L69.88 -0.76 L70.63 -1.51 L71.39 -3.03 L72.15 -6.81 L72.15 -9.08 L71.39 -12.87 L70.63 -14.38 L69.88 -15.14 L68.36 -15.9 M77.64 -14.45 L78.51 -14.88 L79.8 -16.18 L79.8 -7.12 M79.37 -15.75 L79.37 -7.12 M77.64 -7.12 L81.53 -7.12 M85.33 -14.45 L85.76 -14.02 L85.33 -13.59 L84.89 -14.02 L84.89 -14.45 L85.33 -15.31 L85.76 -15.75 L87.05 -16.18 L88.78 -16.18 L90.07 -15.75 L90.5 -15.31 L90.93 -14.45 L90.93 -13.59 L90.5 -12.73 L89.21 -11.86 L87.05 -11 L86.19 -10.57 L85.33 -9.7 L84.89 -8.41 L84.89 -7.12 M88.78 -16.18 L89.64 -15.75 L90.07 -15.31 L90.5 -14.45 L90.5 -13.59 L90.07 -12.73 L88.78 -11.86 L87.05 -11 M84.89 -7.98 L85.33 -8.41 L86.19 -8.41 L88.35 -7.55 L89.64 -7.55 L90.5 -7.98 L90.93 -8.41 M86.19 -8.41 L88.35 -7.12 L90.07 -7.12 L90.5 -7.55 L90.93 -8.41 L90.93 -9.27" fill="none" stroke="#0000ff" stroke-width="0.64" stroke-linecap="round" stroke-linejoin="round"/>
</svg>
</body></html>
